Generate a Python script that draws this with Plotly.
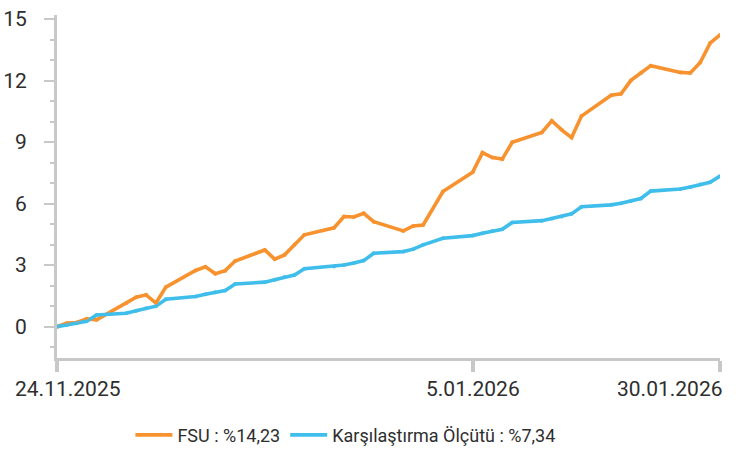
import plotly.graph_objects as go

dates = [
    "2025-11-24", "2025-11-25", "2025-11-26", "2025-11-27", "2025-11-28",
    "2025-12-01", "2025-12-02", "2025-12-03", "2025-12-04", "2025-12-05",
    "2025-12-08", "2025-12-09", "2025-12-10", "2025-12-11", "2025-12-12",
    "2025-12-15", "2025-12-16", "2025-12-17", "2025-12-18", "2025-12-19",
    "2025-12-22", "2025-12-23", "2025-12-24", "2025-12-25", "2025-12-26",
    "2025-12-29", "2025-12-30", "2025-12-31", "2026-01-02",
    "2026-01-05", "2026-01-06", "2026-01-07", "2026-01-08", "2026-01-09",
    "2026-01-12", "2026-01-13", "2026-01-14", "2026-01-15", "2026-01-16",
    "2026-01-19", "2026-01-20", "2026-01-21", "2026-01-22", "2026-01-23",
    "2026-01-26", "2026-01-27", "2026-01-28", "2026-01-29", "2026-01-30",
]

fsu = [
    0.00, 0.17, 0.20, 0.38, 0.33,
    1.14, 1.43, 1.55, 1.15, 1.93,
    2.74, 2.92, 2.58, 2.73, 3.20,
    3.74, 3.29, 3.50, 3.99, 4.48,
    4.82, 5.37, 5.35, 5.53, 5.12,
    4.67, 4.91, 4.96, 6.59,
    7.53, 8.49, 8.25, 8.17, 8.99,
    9.47, 10.04, 9.60, 9.22, 10.27,
    11.29, 11.36, 12.01, 12.37, 12.73,
    12.40, 12.37, 12.88, 13.83, 14.23,
]

benchmark = [
    0.00, 0.08, 0.16, 0.26, 0.57,
    0.65, 0.77, 0.90, 1.00, 1.34,
    1.47, 1.58, 1.68, 1.76, 2.08,
    2.17, 2.29, 2.42, 2.52, 2.82,
    2.93, 3.01, 3.10, 3.22, 3.58,
    3.66, 3.78, 3.99, 4.31,
    4.44, 4.56, 4.67, 4.75, 5.08,
    5.17, 5.27, 5.37, 5.50, 5.85,
    5.94, 6.02, 6.13, 6.25, 6.61,
    6.71, 6.81, 6.93, 7.04, 7.34,
]

series_names = ["FSU : %14,23", "Karşılaştırma Ölçütü : %7,34"]
x_tick_vals = ["2025-11-24", "2026-01-05", "2026-01-30"]
x_tick_text = ["24.11.2025", "5.01.2026", "30.01.2026"]
y_tick_vals = [0, 3, 6, 9, 12, 15]

ORANGE = "#F7922F"
BLUE = "#3FBEEB"
AXIS = "#C8C8C8"
TEXT = "#2E2E2E"
FONT = "Roboto"

fig = go.Figure()
for name, vals, col in [(series_names[0], fsu, ORANGE), (series_names[1], benchmark, BLUE)]:
    fig.add_trace(go.Scatter(
        x=dates, y=vals, name=name, mode="lines",
        line=dict(color=col, width=3.6),
    ))
for vals, col in [(fsu, ORANGE), (benchmark, BLUE)]:
    fig.add_trace(go.Scatter(
        x=dates, y=vals, mode="markers", showlegend=False, hoverinfo="skip",
        marker=dict(color=col, size=4, line=dict(width=0), opacity=0.9),
    ))

fig.update_layout(
    width=736, height=451, autosize=False,
    margin=dict(l=57, r=16, t=15, b=93, autoexpand=False),
    paper_bgcolor="white", plot_bgcolor="white",
    font=dict(family=FONT, color=TEXT),
    showlegend=True,
    legend=dict(
        orientation="h", x=0.435, xanchor="center", y=-0.225, yanchor="middle",
        font=dict(size=18, color=TEXT, family=FONT),
        itemwidth=37, traceorder="normal",
    ),
)

fig.update_xaxes(
    type="date", range=["2025-11-24", "2026-01-30"], automargin=False,
    showgrid=False, zeroline=False,
    showline=True, linecolor=AXIS, linewidth=3,
    tickmode="array", tickvals=x_tick_vals, ticktext=x_tick_text,
    ticks="outside", ticklen=11, tickwidth=4, tickcolor=AXIS,
    showticklabels=False,
)

fig.update_yaxes(
    range=[-1.53, 15.2], automargin=False,
    showgrid=False, zeroline=False,
    showline=True, linecolor=AXIS, linewidth=3,
    tickmode="array", tickvals=y_tick_vals,
    ticks="outside", ticklen=10, tickwidth=2, tickcolor=AXIS,
    tickfont=dict(size=21, color=TEXT, family=FONT),
    ticklabelstandoff=13,
    minor=dict(dtick=1, tick0=0, ticks="outside", ticklen=4, tickwidth=2, tickcolor=AXIS),
)

anchors = [("left", -44), ("center", 0), ("right", 5)]
for val, txt, (anc, shift) in zip(x_tick_vals, x_tick_text, anchors):
    fig.add_annotation(
        x=val, xref="x", y=-0.09, yref="paper", yanchor="middle",
        text=txt, showarrow=False, xanchor=anc, xshift=shift,
        font=dict(size=21, color=TEXT, family=FONT),
    )

fig.write_html(
    "out.html",
    config={"displayModeBar": False},
    post_script="document.body.style.margin='0';document.body.style.padding='0';",
)
